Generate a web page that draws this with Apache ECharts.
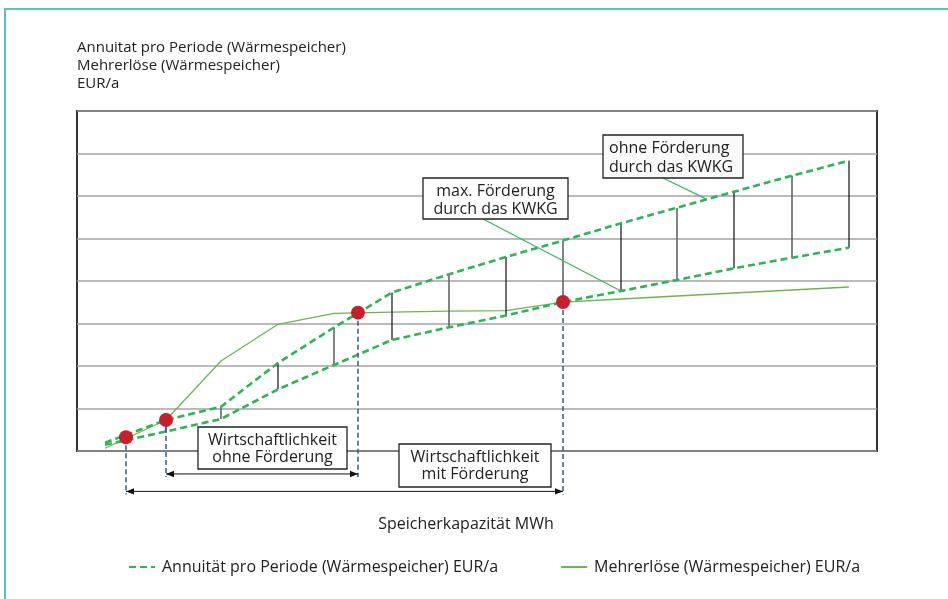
<!DOCTYPE html>
<html>
<head>
<meta charset="utf-8">
<script src="https://cdn.jsdelivr.net/npm/echarts@6/dist/echarts.min.js"></script>
<style>
html,body{margin:0;padding:0;background:#fff;}
#chart{width:948px;height:599px;}
</style>
</head>
<body>
<div id="chart"></div>
<script>
// ---- data (schematic) ----
const capacity = [28, 89, 144, 201, 257, 315, 372, 429, 486, 544, 600, 657, 715, 772];
const annuityOhne = [1.95, 7.29, 10.42, 20.71, 29.06, 37.29, 41.58, 45.65, 49.53, 53.58, 57.25, 61.01, 64.78, 68.31];
const annuityMit = [1.48, 4.59, 7.53, 14.52, 20.24, 26.12, 29.11, 31.88, 35.06, 37.65, 40.24, 42.99, 45.48, 47.84];
const mehrerloese = [0.64, 7.29, 21.18, 29.81, 32.40, 32.66, 32.92, 33.01, 35.03, 35.76, 36.47, 37.18, 37.88, 38.59];
const linkIndex = [1, 2, 3, 4, 5, 6, 7, 8, 9, 10, 11, 12, 13];
const breakEvenX = [49, 89, 281, 486];
const breakEvenY = [3.22, 7.29, 32.55, 35.06];
const breakEvenRange = [1, 0, 0, 1];
const rangeFrom = [89, 49];
const rangeTo = [281, 486];
const rangeLevel = [-5.4, -9.5];
const leaderTargetX = [544, 630];
const leaderTargetY = [37.65, 59.2];

const nameAnnuity = 'Annuität pro Periode (Wärmespeicher) EUR/a';
const nameMehr = 'Mehrerlöse (Wärmespeicher) EUR/a';
const titleLines = ['Annuitat pro Periode (Wärmespeicher)', 'Mehrerlöse (Wärmespeicher)', 'EUR/a'];
const axisTitle = 'Speicherkapazität MWh';

const FONT = '"Open Sans", "Noto Sans", sans-serif';
const GREEN_DASH = '#2fb357';
const GREEN_LINE = '#6db550';
const GREEN_LEADER = '#3bb36a';

const zip = (a, b) => a.map((v, i) => [v, b[i]]);

const chart = echarts.init(document.getElementById('chart'), null, {renderer: 'canvas'});

const boxes = [
  {x: 603, y: 135, w: 140, h: 43, lines: ['ohne Förderung', 'durch das KWKG'], align: 'left', tx: 609, ty: [148, 167], fill: '#fafafa', leader: [663, 178], target: 1},
  {x: 423, y: 178, w: 145, h: 41, lines: ['max. Förderung', 'durch das KWKG'], align: 'center', tx: 495.5, ty: [191, 209], fill: '#fff', leader: [483, 219], target: 0},
  {x: 198, y: 427, w: 149, h: 42, lines: ['Wirtschaftlichkeit', 'ohne Förderung'], align: 'center', tx: 272.5, ty: [440, 457], fill: '#fff'},
  {x: 399, y: 444, w: 152, h: 43, lines: ['Wirtschaftlichkeit', 'mit Förderung'], align: 'center', tx: 475, ty: [457, 474], fill: '#fff'}
];

const graphics = [
  {type: 'polyline', z: 100, shape: {points: [[5, 599], [5, 9], [948, 9]]}, style: {stroke: '#5cc2b6', lineWidth: 2, fill: null}},
  {type: 'text', z: 100, style: {text: axisTitle, x: 466, y: 524, font: '16px ' + FONT, fill: '#222', textAlign: 'center', textVerticalAlign: 'middle'}}
];
titleLines.forEach((t, i) => {
  graphics.push({type: 'text', z: 100, style: {text: t, x: 77, y: 47.5 + i * 18.3, font: '15px ' + FONT, fill: '#222', textAlign: 'left', textVerticalAlign: 'middle'}});
});
boxes.forEach(b => {
  graphics.push({type: 'rect', z: 100, shape: {x: b.x, y: b.y, width: b.w, height: b.h}, style: {fill: b.fill, stroke: '#222', lineWidth: 1.3}});
  b.lines.forEach((t, i) => {
    graphics.push({type: 'text', z: 101, style: {text: t, x: b.tx, y: b.ty[i], font: '16px ' + FONT, fill: '#222', textAlign: b.align, textVerticalAlign: 'middle'}});
  });
});

const option = {
  animation: false,
  backgroundColor: '#fff',
  grid: {left: 77, right: 71, top: 111, bottom: 148, show: true, borderColor: '#1e1e1e', borderWidth: 1.8, backgroundColor: '#fff'},
  xAxis: {type: 'value', min: 0, max: 800, axisLine: {show: false}, axisTick: {show: false}, axisLabel: {show: false}, splitLine: {show: false}},
  yAxis: {type: 'value', min: 0, max: 80, interval: 10, axisLine: {show: false}, axisTick: {show: false}, axisLabel: {show: false}, splitLine: {lineStyle: {color: '#a3a3a3', width: 1.6}}},
  legend: {
    left: 128, top: 559, padding: 0, itemWidth: 26, itemHeight: 14, itemGap: 62,
    data: [nameAnnuity, nameMehr],
    itemStyle: {opacity: 0},
    textStyle: {fontSize: 16, fontFamily: FONT, color: '#222', padding: [0, 0, 0, 2]}
  },
  graphic: graphics,
  series: [
    {
      name: nameMehr, type: 'line', data: zip(capacity, mehrerloese), symbol: 'none', z: 2,
      lineStyle: {color: GREEN_LINE, width: 1.3}, itemStyle: {color: GREEN_LINE}
    },
    {
      name: 'links', type: 'custom', z: 3, clip: false,
      data: linkIndex.map(i => [capacity[i], annuityOhne[i], annuityMit[i]]),
      encode: {x: 0, y: [1, 2]},
      renderItem: (params, api) => {
        const a = api.coord([api.value(0), api.value(1)]);
        const b = api.coord([api.value(0), api.value(2)]);
        const gray = params.dataIndex % 2 === 1;
        return {type: 'line', shape: {x1: a[0], y1: a[1], x2: b[0], y2: b[1]}, style: {stroke: gray ? '#666' : '#111', lineWidth: gray ? 1.6 : 1.2}};
      }
    },
    {
      name: nameAnnuity, type: 'line', data: zip(capacity, annuityOhne), symbol: 'none', z: 4,
      lineStyle: {color: GREEN_DASH, width: 2.6, type: [7, 4]}, itemStyle: {color: GREEN_DASH}
    },
    {
      name: nameAnnuity, type: 'line', data: zip(capacity, annuityMit), symbol: 'none', z: 4,
      lineStyle: {color: GREEN_DASH, width: 2.6, type: [7, 4]}, itemStyle: {color: GREEN_DASH}
    },
    {
      name: 'dropLines', type: 'custom', z: 5, clip: false,
      data: breakEvenX.map((x, i) => [x, breakEvenY[i], rangeLevel[breakEvenRange[i]]]),
      encode: {x: 0, y: [1, 2]},
      renderItem: (params, api) => {
        const a = api.coord([api.value(0), api.value(1)]);
        const b = api.coord([api.value(0), api.value(2)]);
        return {type: 'line', shape: {x1: a[0], y1: a[1], x2: b[0], y2: b[1] + 3}, style: {stroke: '#2e5e8c', lineWidth: 1.5, lineDash: [5, 3]}};
      }
    },
    {
      name: 'ranges', type: 'custom', z: 6, clip: false,
      data: rangeFrom.map((f, i) => [f, rangeTo[i], rangeLevel[i]]),
      encode: {x: [0, 1], y: 2},
      renderItem: (params, api) => {
        const p1 = api.coord([api.value(0), api.value(2)]);
        const p2 = api.coord([api.value(1), api.value(2)]);
        const y = p1[1];
        return {type: 'group', children: [
          {type: 'line', shape: {x1: p1[0], y1: y, x2: p2[0], y2: y}, style: {stroke: '#111', lineWidth: 1}},
          {type: 'polygon', shape: {points: [[p1[0], y], [p1[0] + 8, y - 3.2], [p1[0] + 8, y + 3.2]]}, style: {fill: '#111'}},
          {type: 'polygon', shape: {points: [[p2[0], y], [p2[0] - 8, y - 3.2], [p2[0] - 8, y + 3.2]]}, style: {fill: '#111'}}
        ]};
      }
    },
    {
      name: 'leaders', type: 'custom', z: 7, clip: false,
      data: leaderTargetX.map((x, i) => [x, leaderTargetY[i], i]),
      encode: {x: 0, y: 1},
      renderItem: (params, api) => {
        const t = api.coord([api.value(0), api.value(1)]);
        const box = boxes.find(b => b.target === api.value(2));
        return {type: 'line', shape: {x1: box.leader[0], y1: box.leader[1], x2: t[0], y2: t[1]}, style: {stroke: GREEN_LEADER, lineWidth: 1.3}};
      }
    },
    {
      name: 'breakEven', type: 'scatter', z: 8, data: zip(breakEvenX, breakEvenY),
      symbol: 'circle', symbolSize: 14, itemStyle: {color: '#c71f2b', opacity: 1}
    }
  ]
};
chart.setOption(option);
</script>
</body>
</html>
